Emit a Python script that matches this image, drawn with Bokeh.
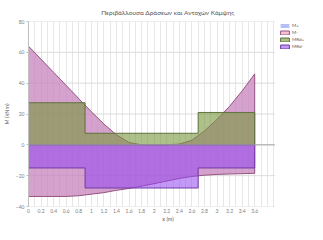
from bokeh.plotting import figure
from bokeh.models import Legend, LegendItem, FixedTicker
from bokeh.embed import file_html
from bokeh.resources import INLINE
import numpy as np

# ---- data ----
x = [0, 0.2, 0.4, 0.6, 0.8, 1, 1.2, 1.4, 1.6, 1.8, 2, 2.2, 2.4, 2.6, 2.8, 3, 3.2, 3.4, 3.6]
m_max = [64, 55.5, 47, 38.5, 30, 21.5, 13.5, 6.5, 1.5, 0, 0, 0, 0.5, 3, 9, 16.5, 25, 35, 46]
m_min = [-33.5, -33.5, -33.5, -33.5, -33, -32, -31, -29.5, -28.3, -26.8, -25.2, -23.5,
         -21.8, -20.5, -19.7, -19.2, -18.9, -18.7, -18.5]
seg_edges = [0, 0.9, 2.7, 3.6]
mrd_pos = [27.3, 7.5, 21]
mrd_neg = [-15, -28, -15]
series_names = ["M+", "M-", "MRd+", "MRd-"]
x_ticks = [0, 0.2, 0.4, 0.6, 0.8, 1, 1.2, 1.4, 1.6, 1.8, 2, 2.2, 2.4, 2.6, 2.8, 3, 3.2, 3.4, 3.6]
x_tick_labels = ["0", "0.2", "0.4", "0.6", "0.8", "1", "1.2", "1.4", "1.6", "1.8",
                 "2", "2.2", "2.4", "2.6", "2.8", "3", "3.2", "3.4", "3.6"]
y_ticks = [-40, -20, 0, 20, 40, 60, 80]

GRID_END = 3.92      # right edge of the gridded plot area (x units)
X_VIEW_END = 4.44    # extra room on the right for the legend


def step_poly(edges, vals):
    xs = [edges[0]]
    ys = [0]
    for i, v in enumerate(vals):
        xs += [edges[i], edges[i + 1]]
        ys += [v, v]
    xs.append(edges[-1])
    ys.append(0)
    return xs, ys


FONT = "Lato"
p = figure(width=307, height=224, output_backend="svg", toolbar_location=None,
           x_range=(0, X_VIEW_END), y_range=(-40, 80),
           min_border_left=24, min_border_right=0, min_border_top=0, min_border_bottom=14,
           title="Περιβάλλουσα Δράσεων και Αντοχών Κάμψης")
p.outline_line_color = None
p.background_fill_color = "white"

p.title.text_font = FONT
p.title.text_font_size = "6.5px"
p.title.text_font_style = "normal"
p.title.text_color = "#595959"
p.title.align = "center"
p.title.offset = -20
p.title.standoff = 12

# grids (vertical from grid, horizontal drawn only over the plot area)
p.xgrid.ticker = FixedTicker(ticks=[round(v, 2) for v in np.arange(0, GRID_END, 0.1)])
p.xgrid.grid_line_color = "#e6e6e6"
p.xgrid.grid_line_width = 1
p.ygrid.visible = False
p.segment(x0=[0] * len(y_ticks), x1=[GRID_END] * len(y_ticks), y0=y_ticks, y1=y_ticks,
          line_color="#dcdcdc", line_width=1)

# envelope band (two series overlapping -> mauve)
band_x = x + x[::-1]
band_y = m_max + m_min[::-1]
r_blue = p.patch(band_x, band_y, fill_color=(110, 130, 230), fill_alpha=0.5, line_color=None)
r_red = p.patch(band_x, band_y, fill_color=(241, 131, 165), fill_alpha=0.5,
                line_color=(150, 85, 130), line_width=1)

gx, gy = step_poly(seg_edges, mrd_pos)
r_green = p.patch(gx, gy, fill_color=(120, 150, 60), fill_alpha=0.6,
                  line_color=(95, 115, 60), line_width=1)
px, py = step_poly(seg_edges, mrd_neg)
r_purple = p.patch(px, py, fill_color=(145, 68, 242), fill_alpha=0.55,
                   line_color=(115, 60, 165), line_width=1)

# zero line
p.segment(x0=[0], x1=[GRID_END], y0=[0], y1=[0], line_color="#a6a6a6", line_width=1)

# axes
p.yaxis.ticker = FixedTicker(ticks=y_ticks)
p.yaxis.axis_label = "M (kNm)"
p.yaxis.axis_label_text_font = FONT
p.yaxis.axis_label_text_font_size = "5.5px"
p.yaxis.axis_label_text_font_style = "normal"
p.yaxis.axis_label_text_color = "#595959"
p.yaxis.axis_label_standoff = 3
p.yaxis.major_label_text_font = FONT
p.yaxis.major_label_text_font_size = "5px"
p.yaxis.major_label_text_color = "#7f7f7f"
p.yaxis.major_label_standoff = 2
p.yaxis.axis_line_color = "#bfbfbf"
p.yaxis.major_tick_line_color = "#bfbfbf"
p.yaxis.major_tick_out = 2
p.yaxis.major_tick_in = 0
p.yaxis.minor_tick_line_color = None
p.yaxis.minor_tick_out = 0

p.xaxis.ticker = FixedTicker(ticks=x_ticks)
p.xaxis.major_label_overrides = {t: s for t, s in zip(x_ticks, x_tick_labels)}
p.xaxis.axis_label = "x (m)"
p.xaxis.axis_label_text_font = FONT
p.xaxis.axis_label_text_font_size = "5.5px"
p.xaxis.axis_label_text_font_style = "normal"
p.xaxis.axis_label_text_color = "#595959"
p.xaxis.axis_label_standoff = 0
p.xaxis.major_label_text_font = FONT
p.xaxis.major_label_text_font_size = "5px"
p.xaxis.major_label_text_color = "#7f7f7f"
p.xaxis.major_label_standoff = 2
p.xaxis.axis_line_color = None
p.xaxis.major_tick_line_color = None
p.xaxis.major_tick_out = 0
p.xaxis.major_tick_in = 0
p.xaxis.minor_tick_line_color = None
p.xaxis.minor_tick_out = 0

legend = Legend(items=[LegendItem(label=n, renderers=[r]) for n, r in
                       zip(series_names, [r_blue, r_red, r_green, r_purple])],
                location=(251, 157), orientation="vertical",
                glyph_width=11, glyph_height=5, label_height=6, label_width=8,
                label_standoff=2, spacing=1, padding=1, margin=0,
                label_text_font=FONT, label_text_font_size="4.5px",
                label_text_color="#595959",
                border_line_color=None, background_fill_alpha=0)
p.add_layout(legend, "center")

open("out.html", "w").write(file_html(p, INLINE))
